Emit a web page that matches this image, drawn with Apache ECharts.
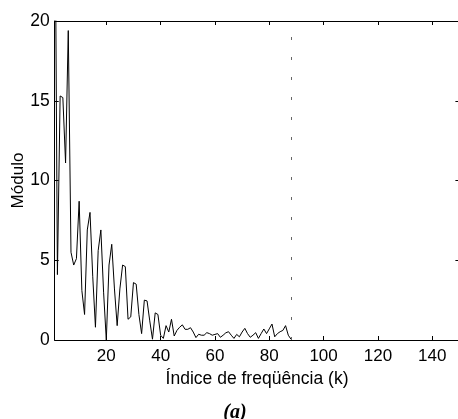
<!DOCTYPE html>
<html>
<head>
<meta charset="utf-8">
<script src="https://cdn.jsdelivr.net/npm/echarts@6/dist/echarts.min.js"></script>
<style>
html,body{margin:0;padding:0;background:#fff;}
#c{width:458px;height:419px;}
</style>
</head>
<body>
<div id="c"></div>
<script>
// k index (1..88)
const kStart = 1;
const magnitudes = [
  32, 4.1, 15.3, 15.2, 11.1, 19.4, 5.5, 4.7, 5.1, 8.7,
  3.1, 1.6, 6.9, 8.0, 4.0, 0.8, 5.6, 6.9, 3.0, 0.0,
  4.7, 6.0, 3.2, 0.9, 3.2, 4.7, 4.6, 1.3, 1.45, 3.6,
  3.5, 1.6, 0.4, 2.5, 2.45, 1.2, 0.05, 1.7, 1.6, 0.3,
  0.1, 0.9, 0.5, 1.3, 0.25, 0.6, 0.8, 0.95, 0.67, 0.67,
  0.77, 0.5, 0.15, 0.36, 0.3, 0.3, 0.46, 0.4, 0.3, 0.35,
  0.4, 0.17, 0.3, 0.45, 0.52, 0.3, 0.1, 0.35, 0.2, 0.5,
  0.73, 0.4, 0.17, 0.3, 0.46, 0.1, 0.4, 0.69, 0.4, 0.7,
  1.0, 0.2, 0.4, 0.52, 0.6, 0.9, 0.3, 0.05
];
const cutoffK = 88;
const xTicks = [20, 40, 60, 80, 100, 120, 140];
const yTicks = [0, 5, 10, 15, 20];
const xRange = [1, 150];
const yRange = [0, 20];
const xLabel = 'Índice de freqüência (k)';
const yLabel = 'Módulo';
const caption = '(a)';

const lineData = magnitudes.map((v, i) => [kStart + i, v]);

const chart = echarts.init(document.getElementById('c'), null, {renderer: 'canvas'});
const font = 'Arial, "Liberation Sans", Helvetica, sans-serif';
const axisCommon = {
  axisLine: {show: true, onZero: false, lineStyle: {color: '#000', width: 1}},
  axisTick: {show: true, inside: true, length: 4, lineStyle: {color: '#000'}},
  splitLine: {show: false}
};
chart.setOption({
  animation: false,
  backgroundColor: '#fff',
  grid: {left: 54.7, top: 21, width: 404.7, bottom: 79, containLabel: false, outerBoundsMode: 'none'},
  title: {
    text: caption, left: 230, top: 398, textAlign: 'center',
    textStyle: {fontFamily: '"Liberation Serif", "Times New Roman", serif', fontStyle: 'italic', fontWeight: 'bold', fontSize: 20, color: '#000'}
  },
  xAxis: [
    Object.assign({}, axisCommon, {
      type: 'value', min: xRange[0], max: xRange[1], position: 'bottom',
      name: xLabel, nameLocation: 'middle', nameGap: 26,
      nameTextStyle: {fontFamily: font, fontSize: 17.5, color: '#000'},
      axisTick: Object.assign({}, axisCommon.axisTick, {customValues: xTicks}),
      axisLabel: {customValues: xTicks, fontFamily: font, fontSize: 17, color: '#000', margin: 8}
    }),
    Object.assign({}, axisCommon, {
      type: 'value', min: xRange[0], max: xRange[1], position: 'top',
      axisTick: Object.assign({}, axisCommon.axisTick, {customValues: xTicks}),
      axisLabel: {show: false, customValues: xTicks}
    })
  ],
  yAxis: [
    Object.assign({}, axisCommon, {
      type: 'value', min: yRange[0], max: yRange[1], interval: 5, position: 'left',
      name: yLabel, nameLocation: 'middle', nameGap: 28, nameMoveOverlap: false,
      nameTextStyle: {fontFamily: font, fontSize: 17, color: '#000'},
      axisLabel: {fontFamily: font, fontSize: 17.5, color: '#000', margin: 5}
    }),
    Object.assign({}, axisCommon, {
      type: 'value', min: yRange[0], max: yRange[1], interval: 5, position: 'right',
      axisLabel: {show: false}
    })
  ],
  series: [
    {
      type: 'line', data: lineData, showSymbol: false, symbol: 'none', clip: true,
      lineStyle: {color: '#000', width: 1}, silent: true,
      markLine: {
        silent: true, symbol: 'none', label: {show: false},
        lineStyle: {color: '#666', width: 1, type: [3, 17]},
        data: [[{coord: [cutoffK, yRange[0]]}, {coord: [cutoffK, yRange[1]]}]]
      }
    }
  ]
});
</script>
</body>
</html>
